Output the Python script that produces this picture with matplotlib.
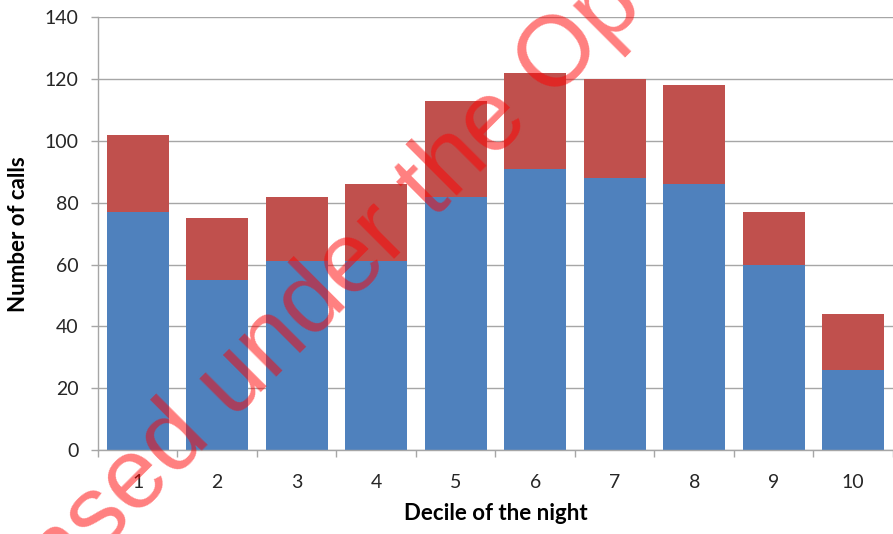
"""Stacked bar chart: number of calls per decile of the night."""

import matplotlib

matplotlib.use("Agg")
import matplotlib.pyplot as plt
import numpy as np

deciles = ["1", "2", "3", "4", "5", "6", "7", "8", "9", "10"]
lower_calls = [77, 55, 61, 61, 82, 91, 88, 86, 60, 26]
upper_calls = [25, 20, 21, 25, 31, 31, 32, 32, 17, 18]
y_ticks = [0, 20, 40, 60, 80, 100, 120, 140]

BLUE = "#4F81BD"
RED = "#C0504D"
GRID = "#A6A6A6"

plt.rcParams["font.family"] = ["Lato", "DejaVu Sans"]

W, H = 893, 534
fig = plt.figure(figsize=(W / 100, H / 100), dpi=100)
ax = fig.add_axes([0.1097, 0.157, 0.8903, 0.811])

x = np.arange(1, len(deciles) + 1)
ax.bar(x, lower_calls, width=0.78, color=BLUE, zorder=2)
ax.bar(x, upper_calls, width=0.78, bottom=lower_calls, color=RED, zorder=2)

ax.set_xlim(0.5, len(deciles) + 0.5)
ax.set_ylim(0, 140)
ax.set_yticks(y_ticks)
ax.yaxis.grid(True, color=GRID, lw=1.0, zorder=0)
ax.set_axisbelow(True)

# labels centred on bars, tick marks on category boundaries
ax.set_xticks(x)
ax.set_xticklabels(deciles)
ax.set_xticks(np.arange(0.5, len(deciles) + 1), minor=True)
ax.tick_params(axis="x", which="major", length=0, pad=17, labelsize=14, labelcolor="#262626")
ax.tick_params(axis="x", which="minor", length=5, color=GRID, width=1)
ax.tick_params(axis="y", length=5, color=GRID, width=1, pad=9, labelsize=14, labelcolor="#262626")

for side in ("top", "right"):
    ax.spines[side].set_visible(False)
for side in ("left", "bottom"):
    ax.spines[side].set_color(GRID)
    ax.spines[side].set_linewidth(1.0)

ax.set_xlabel("Decile of the night", fontsize=16, fontweight="bold", labelpad=9)
ax.set_ylabel("Number of calls", fontsize=16, fontweight="bold", labelpad=11)

# diagonal watermark: line it up so the end of "Licensed" sits at a fixed pixel
wm_font = dict(family="Liberation Sans", fontsize=72)
probe = fig.text(0, 0, "Licensed", **wm_font)
fig.canvas.draw()
w = probe.get_window_extent().width
probe.remove()
angle = 45
end_x, end_y = 213, 440  # image pixels, origin top-left
c, s = np.cos(np.radians(angle)), np.sin(np.radians(angle))
x0, y0 = end_x - w * c, end_y + w * s
fig.text(x0 / W, 1 - y0 / H, "Licensed under the Open Government Licence",
         color="red", alpha=0.5, rotation=angle, rotation_mode="anchor",
         ha="left", va="baseline", zorder=10, **wm_font)

fig.savefig("out.png", dpi=100)
